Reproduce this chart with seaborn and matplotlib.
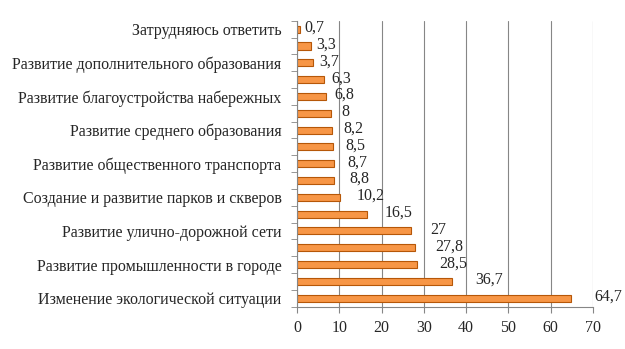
import numpy as np
import pandas as pd
import matplotlib
matplotlib.use("Agg")
import matplotlib.pyplot as plt
import seaborn as sns

# данные (сверху вниз)
labels = [
    "Затрудняюсь ответить", "",
    "Развитие дополнительного образования", "",
    "Развитие благоустройства набережных", "",
    "Развитие среднего образования", "",
    "Развитие общественного транспорта", "",
    "Создание и развитие парков и скверов", "",
    "Развитие улично-дорожной сети", "",
    "Развитие промышленности в городе", "",
    "Изменение экологической ситуации",
]
values = [0.7, 3.3, 3.7, 6.3, 6.8, 8, 8.2, 8.5, 8.7, 8.8, 10.2, 16.5, 27, 27.8, 28.5, 36.7, 64.7]
xticks = [0, 10, 20, 30, 40, 50, 60, 70]

sns.set_style("white")
plt.rcParams['font.family'] = ['Liberation Serif', 'DejaVu Serif']

df = pd.DataFrame({"pos": [str(i) for i in range(len(values))], "val": values})

fig = plt.figure(figsize=(6.25, 3.49), dpi=100)
ax = fig.add_axes([0.475, 0.1215, 0.474, 0.819])

sns.barplot(data=df, x="val", y="pos", orient="h", color="#F79646",
            edgecolor="#B65708", linewidth=0.8, width=0.42, saturation=1, ax=ax)

# подписи значений (в оригинале сдвиг растёт книзу из-за 3D)
for i, v in enumerate(values):
    txt = f"{v:g}".replace(".", ",")
    ax.annotate(txt, (v, i), xytext=(3 + 0.9 * i, 1), textcoords="offset points",
                ha="left", va="center", fontsize=11.5)

ax.set_xlim(0, 70)
ax.set_ylim(len(values) - 0.5, -0.5)
ax.set_xticks(xticks)
ax.set_xticklabels([str(t) for t in xticks], fontsize=11.5)
ax.set_yticks(range(len(labels)))
ax.set_yticklabels(labels, fontsize=11.5)
ax.set_yticks(np.arange(-0.5, len(values), 1), minor=True)
ax.set_xlabel("")
ax.set_ylabel("")
ax.grid(axis="x", color="#868686", linewidth=0.8)
ax.set_axisbelow(True)
for s in ["top", "right"]:
    ax.spines[s].set_visible(False)
for s in ["left", "bottom"]:
    ax.spines[s].set_color("#868686")
ax.tick_params(axis="y", which="major", length=0, pad=11)
ax.tick_params(axis="y", which="minor", length=4, color="#868686", left=True)
ax.tick_params(axis="x", length=4, color="#868686", bottom=True, pad=6)

fig.savefig("out.png", dpi=100)
